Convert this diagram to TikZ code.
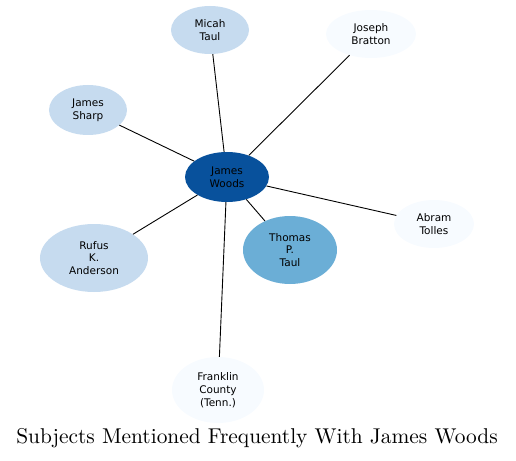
\documentclass[tikz,border=0pt]{standalone}
\usepackage{fontspec}
\newfontfamily\labelfont{DejaVu Sans}
\newfontfamily\titlefont{lmroman10-regular}[Extension=.otf]
\usepackage{tikz}
\usetikzlibrary{positioning}
\usetikzlibrary{shapes.geometric}

\definecolor{deepblue}{HTML}{08519C}
\definecolor{midblue}{HTML}{6BAED6}
\definecolor{paleblue}{HTML}{C6DBEF}
\definecolor{faintblue}{HTML}{F7FBFF}

\begin{document}
\begin{tikzpicture}[on grid,main node/.style={ellipse,inner sep=0pt,align=center,font=\labelfont\fontsize{10.5}{12.7}\selectfont},every edge/.style={draw,line width=0.9pt}]
		\useasboundingbox (-227pt,-283pt) rectangle (289pt,177pt);

		\node[main node][fill = deepblue, minimum width = 84pt, minimum height = 50pt](woods){James\\Woods};
		\node[main node][fill = paleblue, minimum width = 78pt, minimum height = 48pt](micah)[above left = 147pt and 17pt of woods]{Micah\\Taul};
		\node[main node][fill = faintblue, minimum width = 90pt, minimum height = 48pt](bratton)[above right = 143pt and 144pt of woods]{Joseph\\Bratton};
		\node[main node][fill = paleblue, minimum width = 78pt, minimum height = 50pt](sharp)[above left = 67pt and 139pt of woods]{James\\Sharp};
		\node[main node][fill = faintblue, minimum width = 80pt, minimum height = 48pt](tolles)[below right = 47pt and 207pt of woods]{Abram\\Tolles};
		\node[main node][fill = midblue, minimum width = 94pt, minimum height = 68pt](thomas)[below right = 73pt and 63pt of woods]{Thomas\\P.\\Taul};
		\node[main node][fill = paleblue, minimum width = 108pt, minimum height = 68pt](rufus)[below left = 81pt and 133pt of woods]{Rufus\\K.\\Anderson};
		\node[main node][fill = faintblue, minimum width = 92pt, minimum height = 66pt](franklin)[below left = 213pt and 9pt of woods]{Franklin\\County\\(Tenn.)};
		\node[font=\titlefont\fontsize{21.4}{25}\selectfont](title)[below right = 261pt and 30pt of woods]{Subjects Mentioned Frequently With James Woods};

		\path (woods) edge (micah);
		\path (woods) edge (bratton);
		\path (woods) edge (sharp);
		\path (woods) edge (tolles);
		\path (woods) edge (thomas);
		\path (woods) edge (rufus);
		\path (woods) edge (franklin);

	\end{tikzpicture}
\end{document}
